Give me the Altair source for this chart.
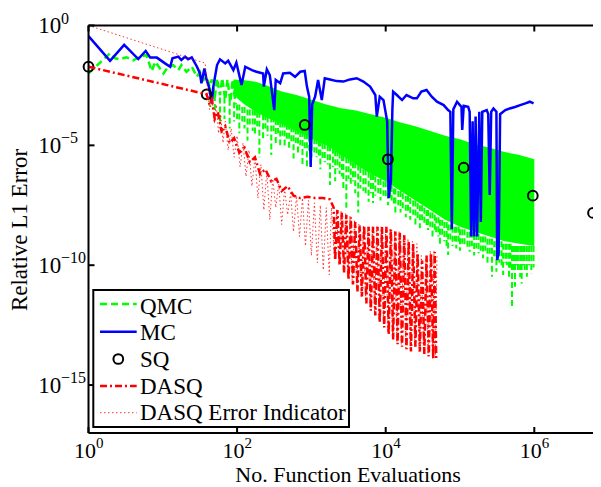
import altair as alt
import pandas as pd

PX_PER_DEC = 74.3
W = 504.5
H = 407.5
FONT = "Liberation Serif"
GREEN, BLUE, RED = "#00ff00", "#0000ff", "#ff0000"

# ---------------- data (log10 exponents) ----------------
sq = [(0.00, -1.72), (1.59, -2.87), (2.91, -4.15), (4.03, -5.58), (5.05, -5.93),
      (5.98, -7.10), (6.79, -7.82)]

mc = [(0.00, -0.44), (0.29, -1.47), (0.48, -0.81), (0.67, -1.40), (0.77, -1.06), (0.83, -1.34),
      (0.92, -1.34), (1.03, -1.58), (1.10, -1.72), (1.13, -1.37), (1.21, -1.30), (1.25, -1.44),
      (1.30, -1.30), (1.34, -1.41), (1.39, -1.33), (1.46, -1.72), (1.50, -2.00), (1.52, -2.41),
      (1.56, -1.79), (1.59, -2.27), (1.62, -2.55), (1.66, -3.25), (1.68, -2.55), (1.73, -1.65),
      (1.77, -1.41), (1.84, -1.58), (1.88, -1.47), (1.95, -1.86), (1.99, -1.55), (2.06, -2.48),
      (2.11, -1.72), (2.20, -1.86), (2.26, -1.93), (2.35, -2.00), (2.36, -2.55), (2.40, -1.83),
      (2.44, -2.07), (2.50, -3.53), (2.52, -2.27), (2.58, -2.41), (2.62, -2.00), (2.71, -1.97),
      (2.78, -2.14), (2.85, -1.93), (2.91, -1.90), (2.94, -2.55), (2.97, -2.97), (2.99, -5.90),
      (3.01, -3.30), (3.05, -2.97), (3.09, -2.27), (3.14, -3.11), (3.18, -2.20), (3.25, -2.25),
      (3.34, -2.32), (3.43, -2.34), (3.52, -2.25), (3.61, -2.20), (3.70, -2.34), (3.79, -2.55),
      (3.86, -2.90), (3.88, -3.80), (3.92, -2.97), (3.97, -3.11), (4.02, -4.00), (4.04, -7.20),
      (4.07, -6.50), (4.09, -3.50), (4.10, -2.76), (4.15, -2.90), (4.22, -3.11), (4.28, -2.90),
      (4.37, -3.04), (4.42, -3.04), (4.48, -2.76), (4.55, -2.69), (4.62, -2.97), (4.69, -3.18),
      (4.78, -3.32), (4.84, -3.53), (4.87, -3.60), (4.89, -8.50), (4.91, -3.50), (4.96, -3.18),
      (5.02, -3.40), (5.03, -4.36), (5.05, -3.35), (5.11, -3.39), (5.13, -3.60), (5.15, -8.80),
      (5.17, -4.00), (5.19, -8.80), (5.21, -3.80), (5.23, -8.80), (5.26, -3.60), (5.28, -8.20),
      (5.30, -3.60), (5.36, -3.53), (5.38, -3.70), (5.40, -7.07), (5.42, -3.60), (5.45, -3.46),
      (5.49, -3.60), (5.50, -9.78), (5.52, -9.50), (5.54, -3.70), (5.61, -3.53), (5.67, -3.46),
      (5.74, -3.40), (5.81, -3.32), (5.88, -3.25), (5.94, -3.18), (5.99, -3.25)]

qmc_start = [(0.00, -2.00), (0.29, -1.16), (0.36, -1.37), (0.42, -1.41), (0.51, -1.33), (0.60, -1.45),
             (0.70, -1.30), (0.78, -1.23), (0.85, -1.90), (0.90, -1.51), (1.01, -2.00), (1.07, -1.72),
             (1.14, -1.65), (1.21, -1.86), (1.25, -1.65), (1.32, -1.93), (1.39, -1.72), (1.46, -2.14),
             (1.50, -1.93), (1.55, -2.27), (1.59, -2.14), (1.63, -2.55), (1.66, -2.25), (1.70, -3.00),
             (1.73, -2.20), (1.77, -2.90), (1.80, -2.20), (1.84, -3.10), (1.87, -2.25), (1.91, -3.20),
             (1.94, -2.25), (1.98, -3.30)]
qmc_band = [(1.95, -2.25, -2.90), (2.10, -2.28, -3.30), (2.25, -2.35, -3.60),
            (2.40, -2.50, -3.85), (2.60, -2.75, -4.10), (2.80, -2.90, -4.40), (3.00, -3.10, -4.70),
            (3.20, -3.30, -5.00), (3.40, -3.45, -5.40), (3.60, -3.55, -5.80), (3.80, -3.70, -6.20),
            (4.00, -3.85, -6.50), (4.20, -4.05, -6.90), (4.40, -4.20, -7.30), (4.60, -4.40, -7.70),
            (4.80, -4.60, -8.10), (5.00, -4.75, -8.40), (5.20, -4.95, -8.60), (5.40, -5.10, -8.80),
            (5.60, -5.28, -9.00), (5.80, -5.40, -9.10), (6.00, -5.58, -9.20)]
qmc_streaks = [(1.64, -2.6, -3.4), (1.70, -2.9, -3.6), (1.77, -3.0, -4.1), (1.83, -3.0, -3.9),
               (1.90, -3.1, -4.3), (1.96, -3.2, -4.0), (2.00, -3.3, -3.9), (2.03, -3.3, -4.5),
               (2.07, -3.4, -4.0), (2.10, -3.4, -4.3), (2.14, -3.5, -4.8), (2.17, -3.5, -4.15),
               (2.21, -3.5, -4.4), (2.24, -3.5, -4.6), (2.27, -3.6, -4.2), (2.30, -3.6, -5.5),
               (2.35, -3.7, -4.7), (2.38, -3.7, -4.3), (2.41, -3.8, -4.6), (2.46, -3.8, -5.4),
               (2.49, -3.8, -4.4), (2.52, -3.9, -4.9), (2.55, -3.9, -4.5), (2.58, -4.0, -5.0),
               (2.61, -4.0, -4.6), (2.64, -4.0, -5.05), (2.67, -4.1, -4.8), (2.70, -4.1, -5.2),
               (2.73, -4.2, -4.9), (2.76, -4.2, -5.55), (2.79, -4.3, -4.9), (2.82, -4.3, -5.3),
               (2.85, -4.4, -5.0), (2.88, -4.4, -5.8), (2.91, -4.5, -5.2), (2.94, -4.5, -5.9),
               (2.97, -4.6, -5.3), (3.00, -4.6, -5.5), (3.04, -4.7, -5.3), (3.07, -4.7, -5.5),
               (3.10, -4.8, -5.5), (3.12, -4.8, -6.0), (3.15, -4.9, -5.6), (3.18, -4.9, -5.7),
               (3.22, -5.0, -5.8), (3.25, -5.0, -6.65), (3.29, -5.1, -5.9), (3.32, -5.2, -6.5),
               (3.35, -5.2, -6.0), (3.38, -5.3, -6.2), (3.41, -5.4, -6.3), (3.43, -5.4, -6.8),
               (3.47, -5.5, -7.6), (3.50, -5.5, -6.4), (3.53, -5.6, -6.6), (3.56, -5.7, -6.5),
               (3.59, -5.7, -7.0), (3.63, -5.8, -7.8), (3.66, -5.9, -6.8), (3.70, -6.0, -6.9),
               (3.73, -6.0, -7.0), (3.77, -6.1, -7.35), (3.80, -6.2, -7.0), (3.83, -6.2, -7.4),
               (3.86, -6.3, -7.1), (3.90, -6.4, -7.0), (3.93, -6.4, -7.3), (3.97, -6.5, -7.1),
               (4.00, -6.5, -7.2), (4.03, -6.6, -7.5), (4.06, -6.6, -7.2), (4.08, -6.7, -7.3),
               (4.11, -6.8, -7.5), (4.13, -6.8, -7.8), (4.17, -6.9, -7.5), (4.20, -6.9, -7.8),
               (4.23, -7.0, -7.7), (4.27, -7.1, -8.0), (4.30, -7.1, -7.8), (4.33, -7.2, -8.1),
               (4.37, -7.3, -7.9), (4.40, -7.3, -8.3), (4.43, -7.4, -8.1), (4.46, -7.5, -8.46),
               (4.49, -7.5, -8.2), (4.52, -7.6, -8.3), (4.55, -7.7, -8.4), (4.57, -7.7, -8.53),
               (4.60, -7.8, -8.4), (4.63, -7.8, -8.9), (4.66, -7.9, -8.6), (4.68, -8.0, -8.7),
               (4.71, -8.0, -8.8), (4.73, -8.1, -9.1), (4.76, -8.1, -8.8), (4.79, -8.2, -9.0),
               (4.82, -8.2, -9.2), (4.84, -8.3, -9.57), (4.87, -8.3, -9.0), (4.90, -8.4, -9.2),
               (4.93, -8.4, -9.0), (4.95, -8.4, -9.3), (4.98, -8.4, -9.1), (5.00, -8.5, -9.4),
               (5.03, -8.5, -9.1), (5.06, -8.5, -9.2), (5.10, -8.6, -9.3), (5.13, -8.6, -9.44),
               (5.16, -8.6, -9.2), (5.19, -8.7, -9.6), (5.22, -8.7, -9.3), (5.25, -8.7, -9.5),
               (5.28, -8.8, -9.4), (5.31, -8.8, -9.71), (5.34, -8.8, -9.4), (5.37, -8.9, -9.9),
               (5.40, -8.9, -9.6), (5.43, -8.9, -10.48), (5.46, -9.0, -9.7), (5.49, -9.0, -10.27),
               (5.51, -9.0, -9.8), (5.53, -9.0, -9.9), (5.56, -9.0, -10.0), (5.58, -9.1, -10.41),
               (5.61, -9.1, -9.9), (5.63, -9.1, -10.0), (5.66, -9.1, -10.6), (5.68, -9.1, -10.2),
               (5.70, -9.2, -11.73), (5.72, -9.2, -10.3), (5.74, -9.2, -10.9), (5.76, -9.2, -10.0),
               (5.78, -9.2, -10.2), (5.81, -9.2, -10.5), (5.83, -9.2, -10.76), (5.85, -9.2, -10.0),
               (5.87, -9.2, -10.2), (5.90, -9.2, -10.48), (5.93, -9.2, -10.0), (5.96, -9.2, -10.34),
               (5.99, -9.2, -10.1)]

dasq = [(0.00, -1.72), (1.59, -2.87), (1.63, -3.30), (1.66, -3.10), (1.70, -3.90), (1.74, -3.60),
        (1.79, -4.40), (1.84, -4.20), (1.90, -4.90), (1.96, -4.70), (2.03, -5.30), (2.10, -5.10),
        (2.17, -5.70), (2.24, -5.50), (2.31, -6.20), (2.38, -6.00), (2.46, -6.50), (2.53, -6.40),
        (2.60, -6.90), (2.68, -6.70), (2.76, -7.10), (2.85, -7.20), (2.95, -7.15), (3.05, -7.20),
        (3.15, -7.20), (3.25, -7.25), (3.30, -7.60),
        (3.32, -9.80), (3.35, -7.70), (3.38, -10.0), (3.41, -7.80), (3.44, -10.3), (3.47, -7.90),
        (3.50, -10.6), (3.53, -8.00), (3.56, -10.8), (3.59, -8.20), (3.62, -11.1), (3.65, -8.35),
        (3.68, -11.3), (3.71, -8.35), (3.74, -11.6), (3.77, -8.40), (3.80, -11.9), (3.83, -8.40),
        (3.86, -12.1), (3.89, -8.40), (3.92, -12.4), (3.95, -8.40), (3.98, -12.6), (4.01, -8.40),
        (4.04, -12.9), (4.07, -8.50), (4.10, -13.1),
        (4.13, -8.60), (4.16, -13.3), (4.19, -8.65), (4.22, -13.4), (4.25, -8.75), (4.28, -13.5),
        (4.31, -9.00), (4.34, -13.6), (4.37, -9.10), (4.40, -13.4), (4.43, -9.50), (4.46, -13.6),
        (4.49, -9.80), (4.52, -13.7), (4.55, -9.60), (4.58, -13.8), (4.61, -9.50), (4.64, -13.9),
        (4.66, -9.45), (4.68, -13.9)]

dasq_ind = [(0.00, 0.00), (1.57, -1.57), (1.61, -2.90), (1.63, -3.50), (1.66, -3.00), (1.69, -4.00),
            (1.72, -3.30), (1.75, -4.50), (1.78, -3.70), (1.81, -4.90), (1.84, -4.00), (1.88, -5.20),
            (1.92, -4.30), (1.96, -5.50), (2.00, -4.60), (2.04, -5.90), (2.08, -4.90), (2.12, -6.30),
            (2.16, -5.20), (2.20, -6.70), (2.24, -5.50), (2.28, -7.20), (2.32, -5.80), (2.36, -7.70),
            (2.40, -6.10), (2.44, -8.10), (2.48, -6.40), (2.52, -7.60), (2.56, -6.60), (2.60, -8.30),
            (2.64, -6.80), (2.68, -7.90), (2.72, -7.00), (2.76, -8.60), (2.80, -7.10), (2.84, -8.80),
            (2.88, -7.20), (2.92, -9.20), (2.96, -7.30), (3.00, -9.60), (3.04, -7.40), (3.08, -9.90),
            (3.12, -7.50), (3.16, -10.2), (3.20, -7.60), (3.24, -10.4), (3.27, -7.60),
            (3.31, -9.70), (3.34, -7.65), (3.37, -10.0), (3.40, -7.75), (3.43, -10.2), (3.46, -7.85),
            (3.49, -10.5), (3.52, -7.95), (3.55, -10.8), (3.58, -8.10), (3.61, -11.0), (3.64, -8.30),
            (3.67, -11.3), (3.70, -8.35), (3.73, -11.5), (3.76, -8.40), (3.79, -11.8), (3.82, -8.40),
            (3.85, -12.0), (3.88, -8.40), (3.91, -12.3), (3.94, -8.40), (3.97, -12.5), (4.00, -8.40),
            (4.03, -12.8), (4.06, -8.45), (4.09, -13.0),
            (4.12, -8.55), (4.15, -13.2), (4.18, -8.60), (4.21, -13.3), (4.24, -8.70), (4.27, -13.45),
            (4.30, -8.90), (4.33, -13.5), (4.36, -9.00), (4.39, -13.4), (4.42, -9.10), (4.45, -13.6),
            (4.48, -9.60), (4.51, -13.7), (4.54, -9.80), (4.57, -13.8), (4.60, -9.40), (4.63, -13.9),
            (4.65, -9.40), (4.67, -13.85), (4.69, -9.60)]

x_ticks = [1, 1e2, 1e4, 1e6]
x_exp = ["0", "2", "4", "6"]
y_ticks = [1, 1e-5, 1e-10, 1e-15]
y_exp = ["0", "\u22125", "\u221210", "\u221215"]
legend_labels = ["QMC", "MC", "SQ", "DASQ", "DASQ Error Indicator"]


def xy(pairs):
    return pd.DataFrame({"x": [10 ** a for a, _ in pairs],
                         "y": [10 ** b for _, b in pairs],
                         "i": list(range(len(pairs)))})


def xyy(triples):
    return pd.DataFrame({"x": [10 ** a for a, _, _ in triples],
                         "y": [10 ** b for _, b, _ in triples],
                         "y2": [10 ** c for _, _, c in triples]})


xs = alt.Scale(type="log", domain=[1, 10 ** (W / PX_PER_DEC)], nice=False)
ys = alt.Scale(type="log", domain=[1e-17, 1], nice=False)


def X(f="x"):
    return alt.X(f"{f}:Q", scale=xs, axis=None)


def Y(f="y"):
    return alt.Y(f"{f}:Q", scale=ys, axis=None)


one = pd.DataFrame({"d": [0]})

qmc_area = alt.Chart(xyy(qmc_band)).mark_area(color=GREEN, opacity=1, clip=True).encode(
    x=X(), y=Y(), y2=alt.Y2("y2:Q"))
qmc_spk = alt.Chart(xyy(qmc_streaks)).mark_rule(color=GREEN, strokeWidth=2, strokeDash=[6, 3], clip=True).encode(
    x=X(), y=Y(), y2=alt.Y2("y2:Q"))
qmc_line = alt.Chart(xy(qmc_start)).mark_line(color=GREEN, strokeWidth=2.5, strokeDash=[7, 4], clip=True).encode(
    x=X(), y=Y(), order=alt.Order("i:Q"))
mc_line = alt.Chart(xy(mc)).mark_line(color=BLUE, strokeWidth=2.5, clip=True).encode(
    x=X(), y=Y(), order=alt.Order("i:Q"))
sq_pts = alt.Chart(xy(sq)).mark_point(shape="circle", filled=False, color="black", size=95,
                                      strokeWidth=2, opacity=1).encode(x=X(), y=Y())
dasq_line = alt.Chart(xy(dasq)).mark_line(color=RED, strokeWidth=2.5, strokeDash=[7, 3, 2, 3], clip=True).encode(
    x=X(), y=Y(), order=alt.Order("i:Q"))
ind_line = alt.Chart(xy(dasq_ind)).mark_line(color=RED, strokeWidth=1, strokeDash=[1.5, 2.5], opacity=0.8,
                                             clip=True).encode(x=X(), y=Y(), order=alt.Order("i:Q"))

base1 = alt.Chart(one)
frame = [
    base1.mark_rule(color="black", strokeWidth=2).encode(x=alt.value(0), y=alt.value(0), y2=alt.value(H)),
    base1.mark_rule(color="black", strokeWidth=2).encode(x=alt.value(0), x2=alt.value(W), y=alt.value(0)),
    base1.mark_rule(color="black", strokeWidth=2).encode(x=alt.value(0), x2=alt.value(W), y=alt.value(H)),
]
xt = pd.DataFrame({"v": x_ticks, "e": x_exp})
yt = pd.DataFrame({"v": y_ticks, "e": y_exp})
ticks = [
    alt.Chart(xt).mark_rule(color="black", strokeWidth=2).encode(x=X("v"), y=alt.value(H), y2=alt.value(H - 6)),
    alt.Chart(xt).mark_rule(color="black", strokeWidth=2).encode(x=X("v"), y=alt.value(0), y2=alt.value(6)),
    alt.Chart(yt).mark_rule(color="black", strokeWidth=2).encode(y=Y("v"), x=alt.value(0), x2=alt.value(6)),
]
labels = [
    alt.Chart(xt).mark_text(font=FONT, fontSize=22, align="right", baseline="alphabetic", dx=7.5,
                            color="black").encode(x=X("v"), y=alt.value(432.5), text=alt.value("10")),
    alt.Chart(xt).mark_text(font=FONT, fontSize=15, align="left", baseline="alphabetic", dx=7.5,
                            color="black").encode(x=X("v"), y=alt.value(422.5), text=alt.Text("e:N")),
    alt.Chart(yt).mark_text(font=FONT, fontSize=23, align="left", baseline="alphabetic", dy=7.5,
                            color="black").encode(y=Y("v"), x=alt.value(-50.2), text=alt.value("10")),
    alt.Chart(yt).mark_text(font=FONT, fontSize=16, align="left", baseline="alphabetic", dy=-2,
                            color="black").encode(y=Y("v"), x=alt.value(-27.5), text=alt.Text("e:N")),
    base1.mark_text(font=FONT, fontSize=22, align="center", baseline="alphabetic", color="black").encode(
        x=alt.value(259.5), y=alt.value(456.5), text=alt.value("No. Function Evaluations")),
    base1.mark_text(font=FONT, fontSize=23, align="center", baseline="alphabetic", angle=270,
                    color="black").encode(x=alt.value(-61.5), y=alt.value(204.5),
                                          text=alt.value("Relative L1 Error")),
]

ly0 = [278.5, 306.2, 333.5, 360.5, 387.2]
ty0 = [288.0, 314.7, 341.4, 368.1, 394.8]
legend = [
    base1.mark_rect(fill="white", stroke="black", strokeWidth=2).encode(
        x=alt.value(4.8), x2=alt.value(260.5), y=alt.value(264.5), y2=alt.value(401.5)),
    base1.mark_rule(color=GREEN, strokeWidth=2.5, strokeDash=[7, 4]).encode(
        x=alt.value(11.5), x2=alt.value(48.2), y=alt.value(ly0[0])),
    base1.mark_rule(color=BLUE, strokeWidth=2.5).encode(
        x=alt.value(11.5), x2=alt.value(48.2), y=alt.value(ly0[1])),
    base1.mark_point(shape="circle", filled=False, color="black", size=95, strokeWidth=2, opacity=1).encode(
        x=alt.value(29.8), y=alt.value(ly0[2])),
    base1.mark_rule(color=RED, strokeWidth=2.5, strokeDash=[7, 3, 2, 3]).encode(
        x=alt.value(11.5), x2=alt.value(48.2), y=alt.value(ly0[3])),
    base1.mark_rule(color=RED, strokeWidth=1, strokeDash=[1.5, 2.5], opacity=0.8).encode(
        x=alt.value(11.5), x2=alt.value(48.2), y=alt.value(ly0[4])),
]
for lab, ty in zip(legend_labels, ty0):
    legend.append(base1.mark_text(font=FONT, fontSize=23, align="left", baseline="alphabetic",
                                  color="black").encode(x=alt.value(51.5), y=alt.value(ty),
                                                        text=alt.value(lab)))

chart = alt.layer(
    qmc_area, qmc_spk, qmc_line, mc_line, sq_pts, dasq_line, ind_line,
    *frame, *ticks, *labels, *legend
).properties(
    width=W, height=H,
    padding={"left": 80.5, "top": 17.5, "right": 0, "bottom": 54},
    autosize=alt.AutoSizeParams(type="none"),
).configure_view(stroke=None)

chart.save("out.html", embed_options={"renderer": "svg", "actions": False})
